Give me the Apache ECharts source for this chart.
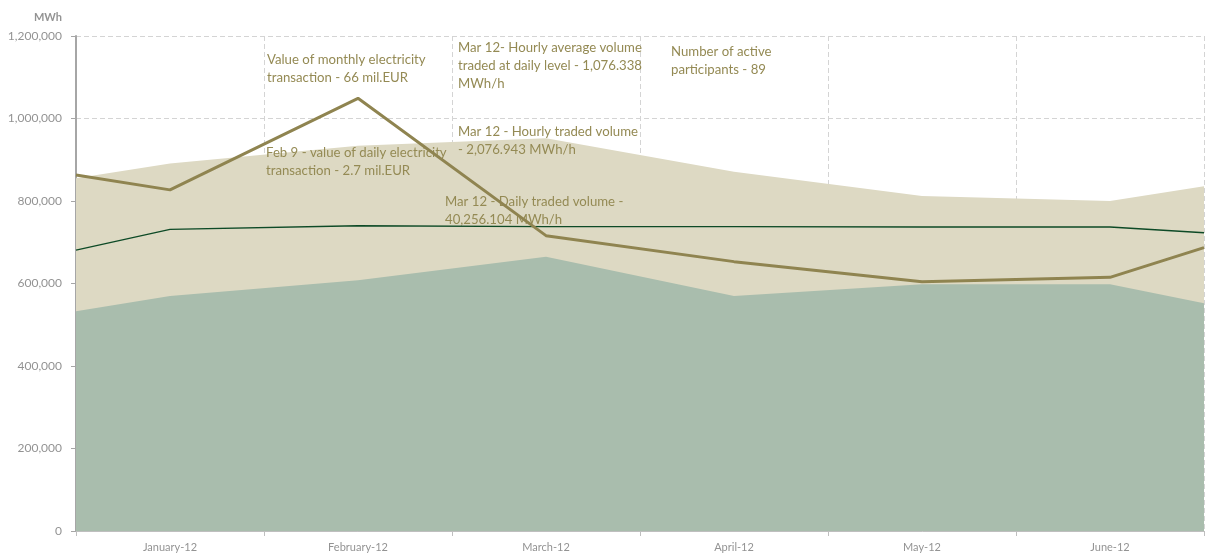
<!DOCTYPE html>
<html>
<head>
<meta charset="utf-8">
<title>Electricity market volumes 2012</title>
<script src="https://cdn.jsdelivr.net/npm/echarts@6/dist/echarts.min.js"></script>
<style>
    html, body { margin: 0; padding: 0; background: #fff; }
    #chart { width: 1206px; height: 557px; }
</style>
</head>
<body>
<div id="chart"></div>
<script>
    // x axis has half-month slots so the areas run from edge to edge
    const slots = ['', 'January-12', '', 'February-12', '', 'March-12', '', 'April-12', '', 'May-12', '', 'June-12', '']
    const pointSlots = [0, 1, 3, 5, 7, 9, 11, 12]

    const totalVolume = [855000, 891000, 934000, 952000, 871000, 812000, 800000, 836000]
    const baseVolume = [533000, 570000, 608000, 665000, 570000, 598000, 598000, 552000]
    const averageVolume = [681000, 731000, 740000, 738000, 738000, 737000, 737000, 723000]
    const monthlyVolume = [863000, 827000, 1049000, 716000, 653000, 604000, 615000, 687000]

    const yTicks = [0, 200000, 400000, 600000, 800000, 1000000, 1200000]

    const notes = [
        { text: 'Value of monthly electricity\ntransaction - 66 mil.EUR', left: 267, top: 51 },
        { text: 'Feb 9 - value of daily electricity\ntransaction - 2.7 mil.EUR', left: 266, top: 144 },
        { text: 'Mar 12- Hourly average volume\ntraded at daily level - 1,076.338\nMWh/h', left: 458, top: 39 },
        { text: 'Mar 12 - Hourly traded volume\n- 2,076.943 MWh/h', left: 458, top: 123 },
        { text: 'Mar 12 - Daily traded volume -\n40,256.104 MWh/h', left: 445, top: 193 },
        { text: 'Number of active\nparticipants - 89', left: 671, top: 43 }
    ]

    const textColor = '#948a54'
    const axisColor = '#939393'
    const fontFamily = 'Lato, "Open Sans", sans-serif'

    const toPairs = values => values.map((v, i) => [pointSlots[i], v])

    const myChart = echarts.init(document.getElementById('chart'))

    const option = {
        animation: false,
        grid: { left: 76, right: 2, top: 36, bottom: 26 },
        xAxis: {
            type: 'category',
            data: slots,
            boundaryGap: false,
            axisLine: { lineStyle: { color: '#bfbfbf', width: 1 } },
            axisTick: {
                length: 5,
                lineStyle: { color: '#bfbfbf' },
                interval: (index) => index % 2 === 0
            },
            axisLabel: {
                interval: (index) => index % 2 === 1,
                color: axisColor,
                fontSize: 11,
                fontFamily: fontFamily,
                margin: 11
            },
            splitLine: {
                show: true,
                interval: (index) => index % 2 === 0 && index > 0,
                lineStyle: { color: '#d4d4d4', type: [5, 3], width: 1 }
            }
        },
        yAxis: {
            type: 'value',
            min: yTicks[0],
            max: yTicks[yTicks.length - 1],
            interval: yTicks[1] - yTicks[0],
            name: 'MWh',
            nameLocation: 'end',
            nameGap: 13,
            nameTextStyle: {
                color: axisColor,
                fontSize: 11,
                fontWeight: 'bold',
                fontFamily: fontFamily,
                align: 'right',
                padding: [0, 14, 0, 0]
            },
            axisLine: { show: true, lineStyle: { color: '#a6a6a6', width: 2 } },
            axisTick: { show: true, length: 5, lineStyle: { color: '#a6a6a6' } },
            axisLabel: {
                color: axisColor,
                fontSize: 12,
                fontFamily: fontFamily,
                margin: 14,
                formatter: (v) => v.toLocaleString('en-US')
            },
            splitLine: { lineStyle: { color: '#d4d4d4', type: [5, 3], width: 1 } }
        },
        series: [
            {
                name: 'Total volume',
                type: 'line',
                data: toPairs(totalVolume),
                showSymbol: false,
                lineStyle: { width: 0 },
                areaStyle: { color: '#ddd9c3', opacity: 1 },
                z: 1
            },
            {
                name: 'Base volume',
                type: 'line',
                data: toPairs(baseVolume),
                showSymbol: false,
                lineStyle: { width: 0 },
                areaStyle: { color: '#a9bdad', opacity: 1 },
                z: 2
            },
            {
                name: 'Average volume',
                type: 'line',
                data: toPairs(averageVolume),
                showSymbol: false,
                lineStyle: { color: '#0d4a26', width: 1.3 },
                z: 3
            },
            {
                name: 'Monthly volume',
                type: 'line',
                data: toPairs(monthlyVolume),
                showSymbol: false,
                lineStyle: { color: '#8f8450', width: 3 },
                z: 4
            }
        ],
        graphic: notes.map(n => ({
            type: 'text',
            left: n.left,
            top: n.top,
            z: 3,
            style: {
                text: n.text,
                fill: textColor,
                font: '13.2px ' + fontFamily,
                lineHeight: 18
            }
        }))
    }

    myChart.setOption(option)
</script>
</body>
</html>
